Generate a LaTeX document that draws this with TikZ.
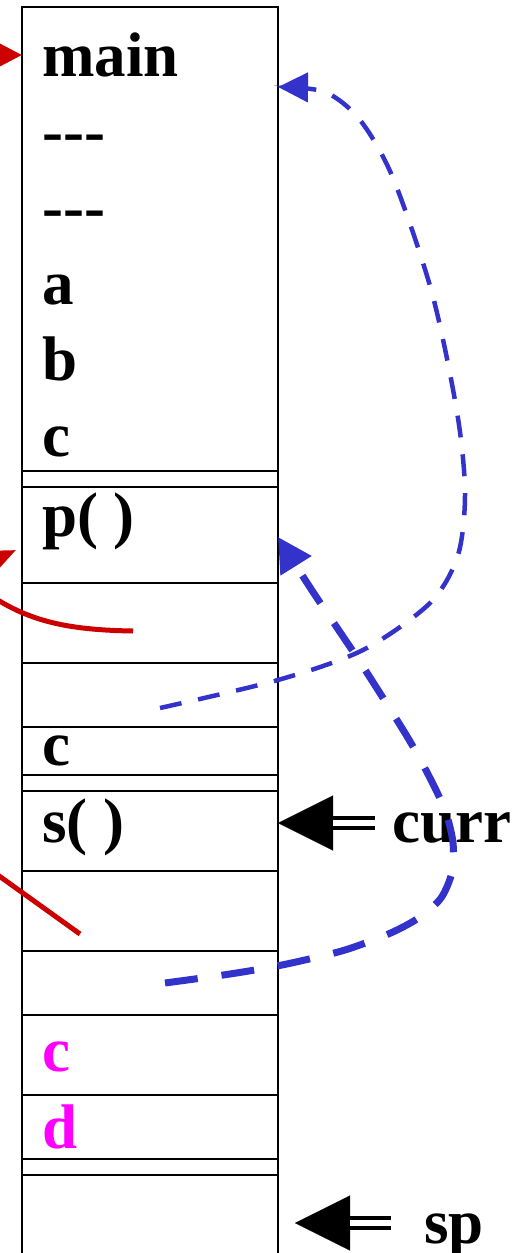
\documentclass[tikz,border=0pt]{standalone}
\usepackage{fontspec}
\setmainfont{Liberation Serif}
\usetikzlibrary{arrows.meta}
\definecolor{linkblue}{RGB}{51,51,204}
\definecolor{linkred}{RGB}{204,0,0}
\definecolor{newvar}{RGB}{255,0,255}

\begin{document}
\begin{tikzpicture}[
    x=1pt, y=-1pt,
    font=\fontsize{63}{70}\selectfont\bfseries,
    entry/.style={anchor=base west, inner sep=0pt},
    frame/.style={line width=2pt, black},
    sep/.style={line width=1.6pt, black},
    ctrl/.style={linkblue, line width=4.5pt, dash pattern=on 22pt off 17pt,
                 -{Triangle[length=30pt,width=29pt]}},
    ret/.style={linkblue, line width=7pt, dash pattern=on 33pt off 24pt,
                -{Triangle[length=34pt,width=35pt]}},
    stat/.style={linkred, line width=5pt},
    shaft/.style={double=white, double distance=6pt, line width=4pt},
    head/.style={-{Triangle[length=55pt,width=55pt]}, line width=0.1pt}
]
\useasboundingbox (0,0) rectangle (519,1253);
\clip (0,0) rectangle (519,1253);

\draw[frame] (22,1260) -- (22,7) -- (278,7) -- (278,1260);
\foreach \y in {471,487,583,663,727,775,791,871,951,1015,1095,1159,1175}
    \draw[sep] (22,\y) -- (278,\y);

\node[entry] (main) at (42,76) {main};
\node[entry] (dashA) at (42,152) {\mbox{-}\mbox{-}\mbox{-}};
\node[entry] (dashB) at (42,228) {\mbox{-}\mbox{-}\mbox{-}};
\node[entry] (va) at (42,304) {a};
\node[entry] (vb) at (42,380) {b};
\node[entry] (vc) at (42,456) {c};
\node[entry] (pfun) at (42,536) {p( )};
\node[entry] (pc) at (42,765) {c};
\node[entry] (sfun) at (42,842) {s( )};
\node[entry, text=newvar] (sc) at (42,1071) {c};
\node[entry, text=newvar] (sd) at (42,1148) {d};
\node[entry] (curr) at (392,842) {curr};
\node[entry] (sp) at (424,1243) {sp};

\coordinate (mainin) at (22,55);
\coordinate (pin) at (16,550);
\coordinate (redA) at (-50,55);
\coordinate (redB) at (-34,573);
\coordinate (redC) at (-10,595);
\coordinate (redD) at (133,631);
\coordinate (redE) at (-5,873);
\coordinate (redF) at (80,934);
\draw[stat, -{Triangle[length=32pt,width=32pt]}] (redA) -- (mainin);
\draw[stat, -{Triangle[length=30pt,width=24pt]}] (redB) -- (pin);
\draw[stat] (redC) .. controls (30,622) and (70,630) .. (redD);
\draw[stat] (redE) -- (redF);

\coordinate (mainret) at (278,87);
\coordinate (pret) at (278,537);
\coordinate (pcall) at (160,708);
\coordinate (scall) at (165,983);
\draw[ctrl] plot[smooth] coordinates {(pcall) (278,680) (363,650) (430,603)
    (458,555) (465,492) (457,412) (432,293) (393,178) (360,120) (325,92) (mainret)};
\draw[ret] plot[smooth] coordinates {(scall) (230,974) (282,965) (338,952)
    (368,942) (395,931) (420,917) (441,898) (452,872) (453,843) (446,813)
    (432,782) (408,738) (360,662) (313,592) (pret)};

\coordinate (currtip) at (278,823);
\coordinate (sptip) at (295,1223);
\draw[head] (375,823) -- (currtip);
\draw[shaft] (375,823) -- (333,823);
\draw[head] (391,1223) -- (sptip);
\draw[shaft] (391,1223) -- (350,1223);
\end{tikzpicture}
\end{document}
